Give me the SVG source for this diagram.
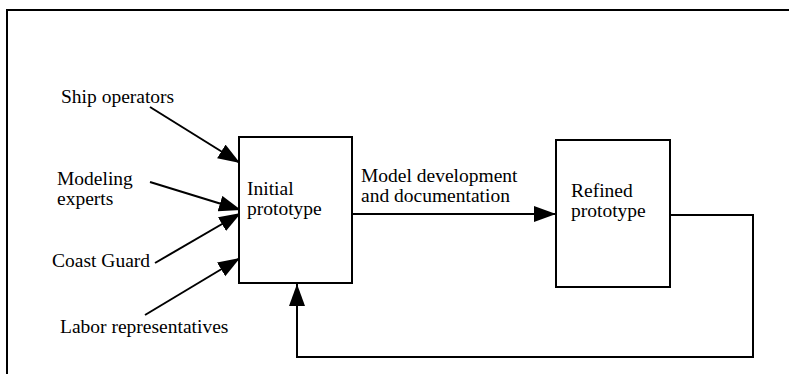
<svg xmlns="http://www.w3.org/2000/svg" width="789" height="374" viewBox="0 0 789 374">
<defs>
<marker id="ah" markerUnits="userSpaceOnUse" markerWidth="24" markerHeight="18" refX="22" refY="8" orient="auto">
<path d="M0,0 L22,8 L0,16 Z" fill="#000"/>
</marker>
<style>
text{font-family:'Liberation Serif','Times New Roman',serif;font-size:19.5px;fill:#000}
.b{fill:#fff;stroke:#000;stroke-width:2}
.c{fill:none;stroke:#000;stroke-width:2}
</style>
</defs>
<rect width="789" height="374" fill="#fff"/>
<path d="M7,374 V10 H789" class="c"/>
<g id="connectors">
<line x1="150" y1="107" x2="240" y2="163" class="c" marker-end="url(#ah)"/>
<line x1="150" y1="182" x2="241" y2="210" class="c" marker-end="url(#ah)"/>
<line x1="155" y1="263" x2="241" y2="213" class="c" marker-end="url(#ah)"/>
<line x1="145" y1="315" x2="240" y2="258" class="c" marker-end="url(#ah)"/>
<line x1="352" y1="214" x2="556" y2="214" class="c" marker-end="url(#ah)"/>
<polyline points="670,215 753,215 753,357 297,357 297,284" class="c" marker-end="url(#ah)"/>
</g>
<g id="ship"><text x="61" y="103">Ship operators</text></g>
<g id="modeling"><text x="57" y="185">Modeling</text><text x="57" y="205">experts</text></g>
<g id="coast"><text x="52" y="267">Coast Guard</text></g>
<g id="labor"><text x="60" y="333">Labor representatives</text></g>
<g id="initial"><rect class="b" x="239" y="137" width="113" height="146"/><text x="247" y="195">Initial</text><text x="247" y="215">prototype</text></g>
<g id="label-model"><text x="361" y="182">Model development</text><text x="361" y="202">and documentation</text></g>
<g id="refined"><rect class="b" x="556" y="140" width="114" height="147"/><text x="571" y="197">Refined</text><text x="571" y="217">prototype</text></g>
</svg>
